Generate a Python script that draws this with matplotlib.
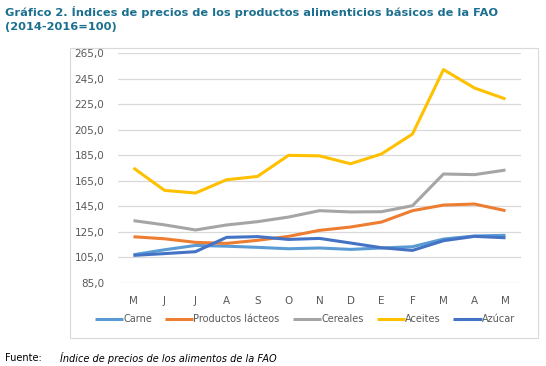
import matplotlib
matplotlib.use("Agg")
import matplotlib.pyplot as plt
from matplotlib.patches import Rectangle

meses = ['M', 'J', 'J', 'A', 'S', 'O', 'N', 'D', 'E', 'F', 'M', 'A', 'M']
carne = [107.1, 111.0, 114.4, 113.8, 112.9, 111.8, 112.4, 111.3, 112.4, 113.4, 119.4, 121.8, 122.3]
lacteos = [121.2, 119.6, 116.8, 116.0, 118.4, 121.5, 126.2, 128.8, 132.7, 141.6, 146.0, 146.8, 141.6]
cereales = [133.8, 130.5, 126.5, 130.4, 133.0, 136.6, 141.6, 140.6, 140.8, 145.5, 170.3, 169.8, 173.4]
aceites = [175.0, 157.5, 155.4, 165.8, 168.4, 184.9, 184.5, 178.3, 186.0, 201.6, 252.0, 237.6, 229.0]
azucar = [106.6, 108.0, 109.5, 120.7, 121.3, 119.1, 119.9, 116.3, 112.6, 110.5, 118.1, 121.5, 120.4]
yticks = [85, 105, 125, 145, 165, 185, 205, 225, 245, 265]

series = [
    ('Carne', carne, '#5B9BD5'),
    ('Productos lácteos', lacteos, '#ED7D31'),
    ('Cereales', cereales, '#A5A5A5'),
    ('Aceites', aceites, '#FFC000'),
    ('Azúcar', azucar, '#4472C4'),
]

W, H = 546, 366
fig = plt.figure(figsize=(W / 100, H / 100), dpi=100)

# chart frame
fig.patches.append(Rectangle((70 / W, 1 - 338 / H), (538 - 70) / W, (338 - 48) / H,
                             transform=fig.transFigure, fill=False,
                             edgecolor='#D9D9D9', linewidth=0.8))

ax = fig.add_axes([118 / W, 1 - 283 / H, (521 - 118) / W, (283 - 53) / H])
x = list(range(len(meses)))
for nombre, vals, col in series:
    ax.plot(x, vals, color=col, linewidth=2.2, label=nombre, solid_capstyle='butt')

ax.set_ylim(85, 265)
ax.set_xlim(-0.5, len(meses) - 0.5)
ax.set_yticks(yticks)
ax.set_yticklabels([f'{v:.1f}'.replace('.', ',') for v in yticks])
ax.set_xticks(x)
ax.set_xticklabels(meses)
ax.grid(axis='y', color='#D9D9D9', linewidth=0.9)
ax.set_axisbelow(True)
for s in ax.spines.values():
    s.set_visible(False)
ax.tick_params(length=0, labelsize=7.5, labelcolor='#595959')
ax.tick_params(axis='x', pad=9)
ax.tick_params(axis='y', pad=10)

leg = fig.legend(loc='center', bbox_to_anchor=(305 / W, 1 - 319 / H), ncol=5,
                 frameon=False, fontsize=7, handlelength=2.9, handletextpad=0.0,
                 columnspacing=1.35, labelcolor='#595959')

fig.text(5 / W, 1 - 12 / H,
         'Gráfico 2. Índices de precios de los productos alimenticios básicos de la FAO',
         fontsize=8.2, fontweight='bold', color='#1B6F8F', va='center', ha='left')
fig.text(5 / W, 1 - 27 / H, '(2014-2016=100)',
         fontsize=8.2, fontweight='bold', color='#1B6F8F', va='center', ha='left')

fig.text(5 / W, 1 - 358 / H, 'Fuente:', fontsize=7, color='black', va='center')
fig.text(60 / W, 1 - 358 / H, 'Índice de precios de los alimentos de la FAO',
         fontsize=7, style='italic', color='black', va='center')

fig.savefig('out.png', dpi=100, facecolor='white')
